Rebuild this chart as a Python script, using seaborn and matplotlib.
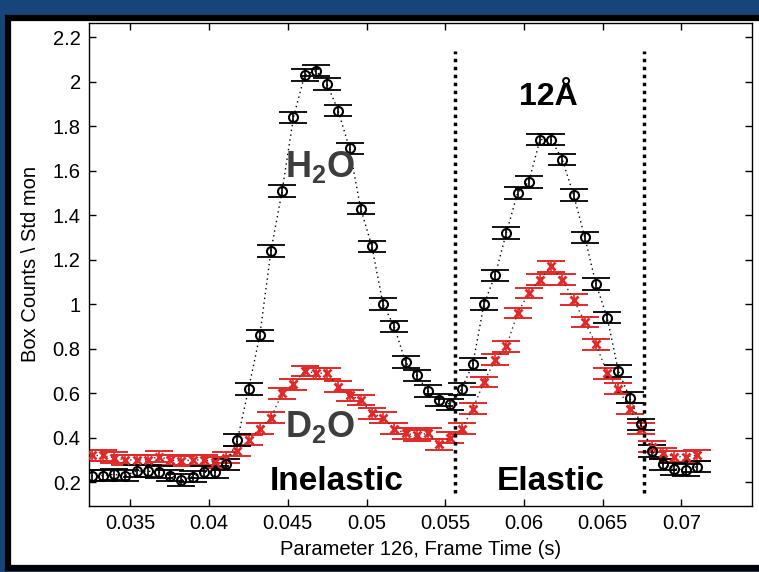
import numpy as np
import pandas as pd
import seaborn as sns
import matplotlib
matplotlib.use("Agg")
import matplotlib.pyplot as plt
from matplotlib.patches import Rectangle
from matplotlib.ticker import FuncFormatter

# ---------------- data ----------------
frame_time = [0.03254, 0.03325, 0.03396, 0.03468, 0.03539, 0.03610, 0.03681, 0.03752,
              0.03824, 0.03895, 0.03966, 0.04037, 0.04108, 0.04180, 0.04251, 0.04322,
              0.04393, 0.04464, 0.04536, 0.04607, 0.04678, 0.04749, 0.04820, 0.04892,
              0.04963, 0.05034, 0.05105, 0.05176, 0.05248, 0.05319, 0.05390, 0.05461,
              0.05532, 0.05604, 0.05675, 0.05746, 0.05817, 0.05888, 0.05960, 0.06031,
              0.06102, 0.06173, 0.06244, 0.06316, 0.06387, 0.06458, 0.06529, 0.06600,
              0.06672, 0.06743, 0.06814, 0.06885, 0.06956, 0.07028, 0.07099]

h2o = [0.23, 0.23, 0.235, 0.23, 0.25, 0.25, 0.245, 0.23, 0.21, 0.225, 0.245, 0.245,
       0.28, 0.39, 0.62, 0.86, 1.24, 1.51, 1.84, 2.03, 2.05, 1.99, 1.87, 1.70, 1.43,
       1.26, 1.00, 0.90, 0.74, 0.68, 0.61, 0.57, 0.55, 0.62, 0.73, 1.00, 1.13, 1.32,
       1.50, 1.55, 1.74, 1.74, 1.65, 1.49, 1.30, 1.09, 0.94, 0.70, 0.58, 0.46, 0.34,
       0.28, 0.26, 0.255, 0.27]

d2o = [0.32, 0.32, 0.31, 0.30, 0.30, 0.30, 0.315, 0.30, 0.295, 0.30, 0.30, 0.29,
       0.31, 0.34, 0.39, 0.44, 0.49, 0.60, 0.64, 0.70, 0.69, 0.69, 0.63, 0.59, 0.57,
       0.51, 0.49, 0.44, 0.42, 0.41, 0.42, 0.37, 0.40, 0.44, 0.53, 0.65, 0.75, 0.81,
       0.96, 1.05, 1.11, 1.17, 1.11, 1.02, 0.92, 0.82, 0.69, 0.62, 0.53, 0.44, 0.36,
       0.33, 0.315, 0.315, 0.32]

h2o_err = 0.026
d2o_err = 0.024

region_edges = [0.0556, 0.0676]
x_ticks = [0.035, 0.04, 0.045, 0.05, 0.055, 0.06, 0.065, 0.07]
y_ticks = [0.2, 0.4, 0.6, 0.8, 1.0, 1.2, 1.4, 1.6, 1.8, 2.0, 2.2]

df = pd.DataFrame({"t": frame_time, "h2o": h2o, "d2o": d2o})

# ---------------- style ----------------
sns.set_theme(style="white")
plt.rcParams["font.family"] = ["Liberation Sans", "DejaVu Sans"]
plt.rcParams["mathtext.fontset"] = "custom"
plt.rcParams["mathtext.rm"] = "Liberation Sans"
plt.rcParams["mathtext.bf"] = "Liberation Sans:bold"

RED = "#e02a2a"

fig = plt.figure(figsize=(7.59, 5.72), dpi=100, facecolor="#17457a")
fig.patches.append(Rectangle((7.5 / 759, 4 / 572), 1.05, (568 - 17.5) / 572,
                             transform=fig.transFigure, facecolor="white",
                             edgecolor="black", lw=4.5, zorder=-1))

ax = fig.add_axes([89 / 759, 1 - 506 / 572, (752 - 89) / 759, (506 - 23) / 572])
ax.set_facecolor("white")

# error bars (wide caps, MATLAB style)
ax.errorbar(df["t"], df["d2o"], yerr=d2o_err, fmt="none", ecolor=RED,
            elinewidth=1.2, capsize=10, capthick=1.4, zorder=2)
ax.errorbar(df["t"], df["h2o"], yerr=h2o_err, fmt="none", ecolor="black",
            elinewidth=1.2, capsize=10, capthick=1.3, zorder=3)

# dotted connecting lines with markers
sns.lineplot(data=df, x="t", y="d2o", ax=ax, color="#303030", lw=1,
             linestyle=(0, (1, 2.5)), marker="x", markersize=6,
             markeredgecolor=RED, markeredgewidth=2, zorder=4)
sns.lineplot(data=df, x="t", y="h2o", ax=ax, color="black", lw=1,
             linestyle=(0, (1, 2.5)), marker="o", markersize=6.5,
             markerfacecolor="none", markeredgecolor="black",
             markeredgewidth=1.5, zorder=5)

# region separators
ax.vlines(region_edges, 0.15, 2.14, colors="black", linestyles=(0, (1, 1.3)), lw=2.5,
          zorder=6)

# annotations
ax.text(0.04705, 1.615, r"$\mathbf{H_2O}$", fontsize=26, color="#3d3d3d",
        ha="center", va="center", zorder=7)
ax.text(0.04705, 0.45, r"$\mathbf{D_2O}$", fontsize=26, color="#3d3d3d",
        ha="center", va="center", zorder=7)
ax.text(0.06153, 1.931, "12Å", fontsize=23, fontweight="bold", color="black",
        ha="center", va="center", zorder=7)
ax.text(0.04808, 0.205, "Inelastic", fontsize=24, fontweight="bold", color="black",
        ha="center", va="center", zorder=7)
ax.text(0.06167, 0.205, "Elastic", fontsize=24, fontweight="bold", color="black",
        ha="center", va="center", zorder=7)

# axes
ax.set_xlim(0.03237, 0.07449)
ax.set_ylim(0.093, 2.264)
ax.set_xticks(x_ticks)
ax.set_yticks(y_ticks)
fmt = FuncFormatter(lambda v, p: f"{v:g}")
ax.xaxis.set_major_formatter(fmt)
ax.yaxis.set_major_formatter(fmt)
ax.tick_params(direction="in", length=5, width=1, top=True, right=True,
               bottom=True, left=True, labelsize=14.5, pad=6, colors="black")
for s in ax.spines.values():
    s.set_visible(True)
    s.set_color("black")
    s.set_linewidth(1)

ax.set_xlabel("Parameter 126, Frame Time (s)", fontsize=14.5, color="black", labelpad=5)
ax.set_ylabel("Box Counts \\ Std mon", fontsize=14.5, color="black", labelpad=9)

fig.savefig("out.png", dpi=100, facecolor=fig.get_facecolor())
